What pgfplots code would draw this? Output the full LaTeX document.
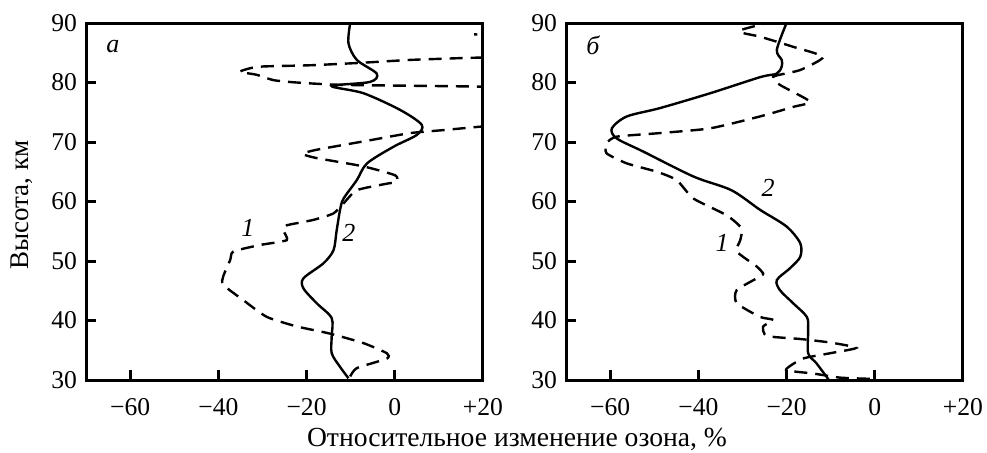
\documentclass[border=0pt]{standalone}
\usepackage{fontspec}
\setmainfont{Liberation Serif}
\usepackage{pgfplots}
\pgfplotsset{compat=1.18}
\begin{document}
\begin{tikzpicture}[font=\fontsize{12.8}{15}\selectfont]
\path[use as bounding box] (0,0) rectangle (493.5pt,226pt);
\pgfplotsset{myax/.style={
  scale only axis, width=198.5pt, height=178.5pt,
  xmin=-70, xmax=20, ymin=30, ymax=90,
  axis line style={line width=1.5pt},
  every tick/.style={line width=1.5pt, black},
  major tick length=5pt,
  tick align=inside,
  xtick pos=bottom, ytick pos=left,
  xtick={-60,-40,-20,0,20},
  xticklabels={−60,−40,−20,0,+20},
  ytick={30,40,50,60,70,80,90},
  yticklabels={30,40,50,60,70,80,90},
  xticklabel style={yshift=-5.5pt},
  yticklabel style={xshift=-1pt},
  clip=true,
  solidc/.style={line width=1.2pt, black, smooth, tension=0.5},
  dashc/.style={line width=1.2pt, black, dash pattern=on 6.5pt off 4pt, smooth, tension=0.35},
}}
\begin{axis}[myax, at={(43pt,36pt)}, anchor=south west]
\addplot[dashc] coordinates {
(-10.1,30.6) (-8.6,32) (-1.8,33.6) (-1.8,34.5) (-7.1,36.2) (-14.7,37.8) (-22.2,39) (-29,40.6) (-34.3,43.4) (-38.9,46) (-38.9,47.4) (-37.3,50.2) (-36.6,51.6) (-30.5,52.7) (-24.5,53.5) (-25.3,55.2) (-24.5,56) (-18.5,56.9) (-13.9,58) (-11.6,59.7) (-8.6,61.9) (-1.8,63) (0.4,63.3) (0.1,64.4) (-7.1,65.9) (-17.7,67.3) (-20.9,68) (-17.7,68.7) (-5.6,70.3) (3.5,71.5) (11,72) (19.7,72.6) (30,73.2) (30,78.8) (19.7,79.3) (-11.6,79.6) (-22.2,80) (-27.5,80.4) (-31.3,81.3) (-35.1,81.8) (-32.8,82.4) (-29.8,82.7) (-19.2,82.9) (-7.9,83.3) (3.5,83.8) (14.8,84.1) (30,84.6) (30,87.3) (18,88.1)
};
\addplot[solidc] coordinates {
(-10.5,30.3) (-12.4,32.2) (-14.3,34.5) (-14.3,37.3) (-14.3,40.4) (-17.7,42.9) (-20.7,45.4) (-20.7,47.1) (-16.2,49.6) (-13.9,51.8) (-13.2,55) (-12.4,58.6) (-11.6,60.5) (-8.6,63.6) (-6.3,66.4) (-0.3,69.2) (5.0,71.2) (6.1,72.9) (1.2,75.4) (-7.1,78.2) (-14.3,79.4) (-5.6,80.1) (-4.1,81.5) (-8.6,83.8) (-10.5,86.6) (-10.1,90)
};
\node[font=\fontsize{13}{15}\selectfont\itshape] at (axis cs:-63.9,86) {а};
\node[font=\fontsize{13}{15}\selectfont\itshape] at (axis cs:-33.3,55.5) {1};
\node[font=\fontsize{13}{15}\selectfont\itshape] at (axis cs:-10.4,54.7) {2};
\end{axis}
\begin{axis}[myax, at={(283pt,36pt)}, anchor=south west]
\addplot[dashc] coordinates {
(-1.1,30.2) (-7.9,30.4) (-14,31.1) (-20.1,31.7) (-16.3,33.6) (-10.1,34.5) (-4.2,35.4) (-10.1,36.3) (-17,36.9) (-24.5,37.4) (-25.3,39) (-23,40.1) (-26,40.6) (-31.3,42.9) (-31.3,45.1) (-26,47.4) (-25.3,47.9) (-26.8,49.1) (-31.3,51.6) (-30.5,53.5) (-30.2,55.5) (-33.6,57.7) (-41.1,60.5) (-44.9,63.6) (-49.4,65) (-56.2,66.4) (-60.8,68.1) (-60.8,69.8) (-58.5,70.9) (-48.7,71.5) (-37.3,72.3) (-26,74.3) (-18.5,75.9) (-14.7,76.8) (-21.5,79.6) (-23,81) (-16.9,82.1) (-11.7,84.3) (-18.5,86) (-26,87.7) (-29.8,88.3) (-30.5,88.8) (-24.5,90)
};
\addplot[solidc] coordinates {
(-10.5,30.1) (-13.2,32.8) (-15.1,34.5) (-15.1,38.4) (-15.4,40.6) (-18.5,42.9) (-21.5,45.1) (-22.2,46.8) (-19.2,48.8) (-16.9,50.7) (-16.9,53) (-20,55.8) (-26,58.6) (-32.5,61.9) (-41.1,64.2) (-52.5,68.4) (-58.5,70.6) (-59.6,72.3) (-56.2,74.3) (-48.7,75.7) (-37.3,78.2) (-26,80.9) (-22.2,81.5) (-21.1,82.7) (-21.1,83.8) (-22.2,85.5) (-20,90)
};
\node[font=\fontsize{13}{15}\selectfont\itshape] at (axis cs:-63.9,86.3) {б};
\node[font=\fontsize{13}{15}\selectfont\itshape] at (axis cs:-24.2,62.3) {2};
\node[font=\fontsize{13}{15}\selectfont\itshape] at (axis cs:-34.6,53) {1};
\end{axis}
\node[font=\fontsize{13.8}{16}\selectfont] at (258.5pt,6.5pt) {Относительное изменение озона, \%};
\node[rotate=90,font=\fontsize{13.5}{16}\selectfont] at (11pt,123.5pt) {Высота, км};
\end{tikzpicture}
\end{document}
